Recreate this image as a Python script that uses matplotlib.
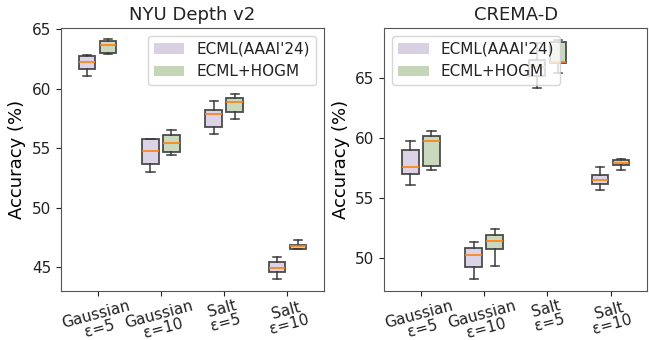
import matplotlib
matplotlib.use('Agg')
import matplotlib.pyplot as plt
import numpy as np
from matplotlib.patches import Patch

# tick labels
conditions = ['Gaussian\nε=5', 'Gaussian\nε=10', 'Salt\nε=5', 'Salt\nε=10']
methods = ["ECML(AAAI'24)", 'ECML+HOGM']

# five values per box: min, q1, median, q3, max
nyu_ecml = [
    [61.1, 61.65, 62.2, 62.7, 62.8],
    [53.0, 53.7, 54.8, 55.75, 55.8],
    [56.15, 56.75, 57.9, 58.2, 59.0],
    [44.0, 44.6, 44.9, 45.4, 45.85],
]
nyu_hogm = [
    [62.9, 63.0, 63.7, 64.0, 64.15],
    [54.4, 54.7, 55.45, 56.1, 56.5],
    [57.45, 58.05, 58.9, 59.2, 59.55],
    [46.55, 46.56, 46.75, 46.9, 47.25],
]
crema_ecml = [
    [56.1, 57.0, 57.6, 59.0, 59.7],
    [48.3, 49.3, 50.3, 50.85, 51.35],
    [64.15, 65.1, 65.9, 66.5, 67.9],
    [55.65, 56.15, 56.5, 56.9, 57.6],
]
crema_hogm = [
    [57.35, 57.7, 59.7, 60.15, 60.55],
    [49.4, 50.75, 51.45, 51.9, 52.45],
    [65.4, 66.25, 66.3, 67.95, 68.15],
    [57.35, 57.75, 57.95, 58.2, 58.25],
]

colors = ['#d9d0e4', '#c5d5b7']
edge = '#3a3a3a'
plt.rcParams['text.color'] = '#222222'
plt.rcParams['xtick.color'] = '#222222'
plt.rcParams['ytick.color'] = '#222222'


def draw(ax, title, ecml, hogm, ylim, ticks, legend_loc):
    x = np.arange(len(conditions))
    for data, off, col in [(ecml, -0.166, colors[0]), (hogm, 0.166, colors[1])]:
        ax.boxplot(data, positions=x + off, widths=0.26, whis=(0, 100),
                   patch_artist=True, manage_ticks=False,
                   boxprops=dict(facecolor=col, edgecolor=edge, linewidth=1.3, alpha=0.9),
                   whiskerprops=dict(color=edge, linewidth=1.1),
                   capprops=dict(color=edge, linewidth=1.1),
                   medianprops=dict(color='#ff7f0e', linewidth=1.2),
                   showfliers=False)
    ax.set_xticks(x)
    ax.set_xticklabels(conditions, rotation=15, fontsize=11, ha='center',
                       linespacing=0.95)
    ax.tick_params(axis='x', pad=1.5)
    ax.set_xlim(-0.58, 3.575)
    ax.set_ylim(*ylim)
    ax.set_yticks(ticks)
    ax.tick_params(axis='y', labelsize=11)
    ax.set_ylabel('Accuracy (%)', fontsize=13)
    ax.set_title(title, fontsize=13)
    for s in ax.spines.values():
        s.set_color('#555555')
    handles = [Patch(facecolor=c, label=m) for c, m in zip(colors, methods)]
    ax.legend(handles=handles, loc=legend_loc, fontsize=11)


fig = plt.figure(figsize=(6.49, 3.4), dpi=100)
ax1 = fig.add_axes([0.094, 0.144, 0.405, 0.774])
ax2 = fig.add_axes([0.592, 0.144, 0.405, 0.774])

draw(ax1, 'NYU Depth v2', nyu_ecml, nyu_hogm, (43.0, 65.1), [45, 50, 55, 60, 65], 'upper right')
draw(ax2, 'CREMA-D', crema_ecml, crema_hogm, (47.28, 69.13), [50, 55, 60, 65], 'upper left')

fig.savefig('out.png', dpi=100)
